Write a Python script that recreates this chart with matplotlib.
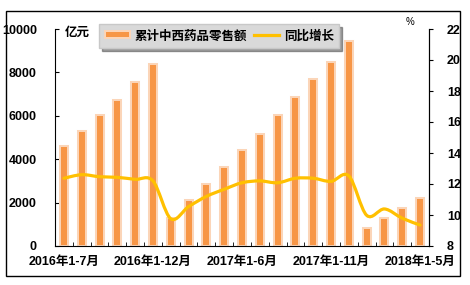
import numpy as np
import matplotlib
matplotlib.use("Agg")
import matplotlib.pyplot as plt
from matplotlib.path import Path
from matplotlib.patches import PathPatch, Patch, Rectangle
from matplotlib.lines import Line2D

plt.rcParams["font.family"] = ["Liberation Sans", "Noto Sans CJK SC", "DejaVu Sans"]
plt.rcParams["font.weight"] = "bold"

# data
periods = ["2016年1-7月", "2016年1-8月", "2016年1-9月", "2016年1-10月", "2016年1-11月",
           "2016年1-12月", "2017年1-2月", "2017年1-3月", "2017年1-4月", "2017年1-5月",
           "2017年1-6月", "2017年1-7月", "2017年1-8月", "2017年1-9月", "2017年1-10月",
           "2017年1-11月", "2017年1-12月", "2018年1-2月", "2018年1-3月", "2018年1-4月",
           "2018年1-5月"]
sales = [4600, 5300, 6050, 6750, 7550, 8380, 1300, 2100, 2850, 3620, 4430,
         5180, 6020, 6880, 7680, 8500, 9460, 820, 1270, 1730, 2190]
growth = [12.37, 12.6, 12.47, 12.43, 12.3, 12.2, 9.76, 10.54, 11.2, 11.66, 12.08,
          12.2, 12.08, 12.37, 12.37, 12.17, 12.52, 9.98, 10.39, 9.79, 9.35]
label_every = 5

bar_face = "#F79646"
bar_edge = "#FBD5B8"
line_col = "#FFC000"

fig = plt.figure(figsize=(4.7, 2.85), dpi=100)
ax = fig.add_axes([55 / 470, 39 / 285, 374 / 470, 217 / 285])
ax2 = ax.twinx()

x = np.arange(len(sales))
ax.bar(x, sales, width=0.45, color=bar_face, edgecolor=bar_edge, linewidth=1.45, zorder=2)
ax.set_xlim(-0.5, len(sales) - 0.5)
ax.set_ylim(0, 10000)
ax.set_yticks(np.arange(0, 10001, 2000))

# smoothed line (Catmull-Rom style bezier like Excel)
pts = np.column_stack([x, growth])
verts = [pts[0]]
codes = [Path.MOVETO]
for i in range(len(pts) - 1):
    p0 = pts[i - 1] if i > 0 else pts[i]
    p1 = pts[i]
    p2 = pts[i + 1]
    p3 = pts[i + 2] if i + 2 < len(pts) else pts[i + 1]
    verts += [p1 + (p2 - p0) / 6, p2 - (p3 - p1) / 6, p2]
    codes += [Path.CURVE4] * 3
ax2.add_patch(PathPatch(Path(verts, codes), facecolor="none", edgecolor=line_col,
                        linewidth=2.3, capstyle="round", zorder=3))
ax2.set_ylim(8, 22)
ax2.set_yticks(np.arange(8, 23, 2))

for a in (ax, ax2):
    a.spines["top"].set_visible(False)
ax2.spines["left"].set_visible(False)
ax2.spines["bottom"].set_visible(False)

ax.set_xticks(x[::label_every])
ax.set_xticklabels(periods[::label_every])
ax.set_xticks(np.arange(-0.5, len(sales), 1), minor=True)
ax.tick_params(axis="x", which="major", length=0, pad=7, labelsize=9)
ax.tick_params(axis="x", which="minor", direction="in", length=3)
ax.tick_params(axis="y", direction="in", length=3, pad=13, labelsize=9)
ax2.tick_params(axis="y", direction="out", length=3, pad=10, labelsize=9)

fig.text(65 / 470, 1 - 33 / 285, "亿元", fontsize=9, fontweight="bold", va="center")
fig.text(406 / 470, 1 - 22 / 285, "%", fontsize=7, fontweight="normal", va="center")

handles = [Patch(facecolor=bar_face, edgecolor=bar_edge, linewidth=1.45),
           Line2D([], [], color=line_col, linewidth=2.3)]
leg = fig.legend(handles, ["累计中西药品零售额", "同比增长"], loc="upper left",
                 bbox_to_anchor=(93 / 470, 1 - 18 / 285), ncol=2, fontsize=9,
                 handlelength=2.0, handleheight=0.5, handletextpad=0.4,
                 columnspacing=0.5, borderpad=0.45, fancybox=False, shadow=True,
                 facecolor="#D9D9D9", edgecolor="#C8C8C8", framealpha=1)
leg.set_zorder(10)

fig.patches.append(Rectangle((6 / 470, 9 / 285), 454 / 470, 265 / 285,
                             transform=fig.transFigure, fill=False,
                             edgecolor="black", linewidth=1.0))

fig.savefig("out.png", dpi=100)
